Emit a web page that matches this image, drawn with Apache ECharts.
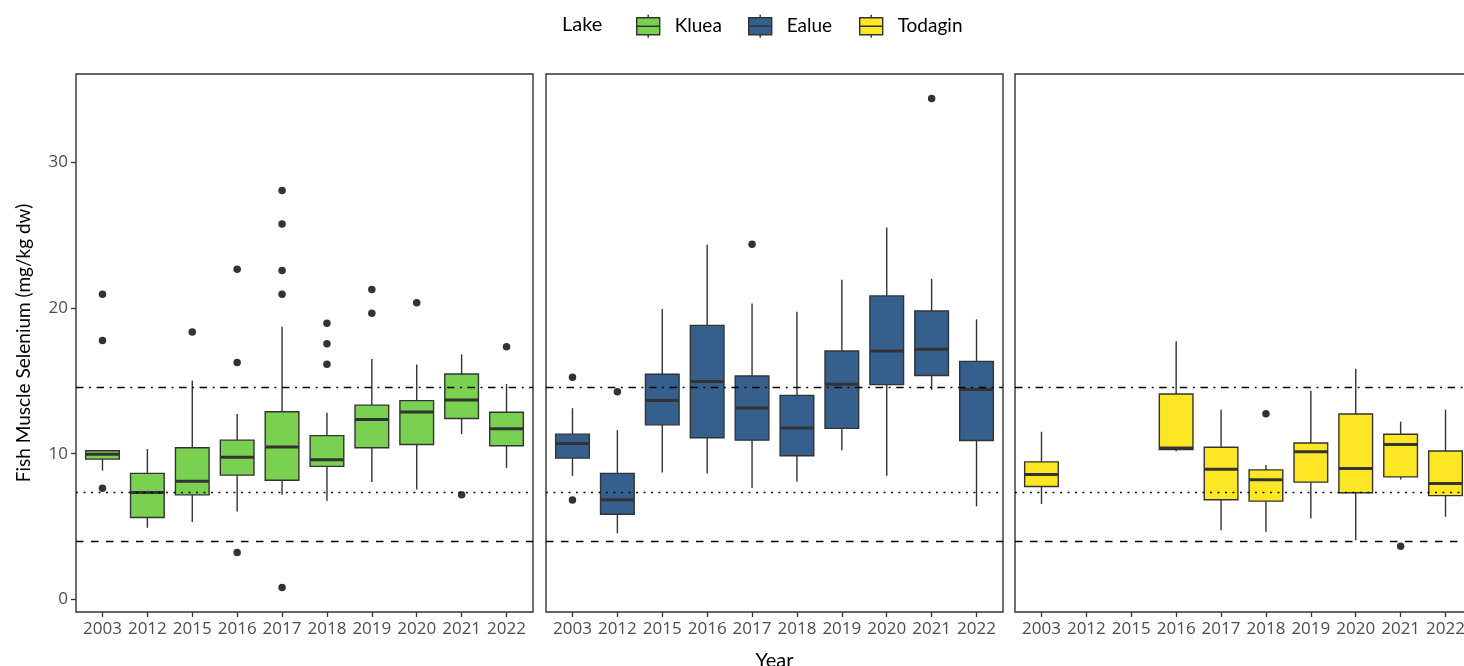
<!DOCTYPE html>
<html><head><meta charset="utf-8">
<script src="https://cdn.jsdelivr.net/npm/echarts@6/dist/echarts.min.js"></script>
<style>html,body{margin:0;padding:0;background:#fff}#c{width:1464px;height:666px}</style>
</head><body><div id="c"></div><script>
// ---------- data ----------
const years = ['2003','2012','2015','2016','2017','2018','2019','2020','2021','2022'];
const lakes = ['Kluea','Ealue','Todagin'];
// rows: [lower whisker, Q1, median, Q3, upper whisker]; null = no sample
const klueaBox = [
  [8.84, 9.63, 9.96, 10.20, 10.20],
  [4.92, 5.63, 7.34, 8.65, 10.32],
  [5.32, 7.18, 8.11, 10.41, 15.02],
  [6.04, 8.53, 9.75, 10.93, 12.72],
  [7.18, 8.18, 10.46, 12.88, 18.71],
  [6.77, 9.13, 9.58, 11.24, 12.81],
  [8.06, 10.41, 12.34, 13.33, 16.50],
  [7.54, 10.63, 12.86, 13.64, 16.12],
  [11.34, 12.41, 13.69, 15.47, 16.81],
  [9.03, 10.55, 11.72, 12.84, 14.78]
];
const ealueBox = [
  [8.49, 9.70, 10.70, 11.34, 13.12],
  [4.54, 5.85, 6.85, 8.65, 11.62],
  [8.72, 11.98, 13.64, 15.45, 19.92],
  [8.65, 11.10, 14.95, 18.80, 24.32],
  [7.65, 10.93, 13.14, 15.33, 20.30],
  [8.08, 9.86, 11.77, 14.00, 19.73],
  [10.24, 11.74, 14.76, 17.04, 21.92],
  [8.49, 14.74, 17.04, 20.82, 25.51],
  [14.38, 15.36, 17.16, 19.78, 21.99],
  [6.39, 10.91, 14.40, 16.33, 19.21]
];
const todaginBox = [
  [6.56, 7.75, 8.57, 9.44, 11.51],
  null,
  null,
  [10.17, 10.28, 10.40, 14.09, 17.71],
  [4.76, 6.84, 8.93, 10.44, 13.02],
  [4.65, 6.75, 8.21, 8.89, 9.23],
  [5.56, 8.05, 10.14, 10.74, 14.32],
  [4.06, 7.32, 8.98, 12.72, 15.82],
  [8.23, 8.41, 10.64, 11.33, 12.20],
  [5.68, 7.13, 7.96, 10.19, 13.02]
];
// outliers: [year, value]
const klueaOut = [
  ['2003',20.94],['2003',17.76],['2003',7.63],
  ['2015',18.35],
  ['2016',22.65],['2016',16.26],['2016',3.23],
  ['2017',28.05],['2017',25.74],['2017',22.56],['2017',20.94],['2017',0.83],
  ['2018',18.94],['2018',17.54],['2018',16.14],
  ['2019',21.25],['2019',19.63],
  ['2020',20.35],
  ['2021',7.18],
  ['2022',17.33]
];
const ealueOut = [
  ['2003',15.24],['2003',6.82],
  ['2012',14.24],
  ['2017',24.36],
  ['2021',34.35]
];
const todaginOut = [
  ['2018',12.74],
  ['2021',3.65]
];
const refLines = [4.0, 7.34, 14.55];
const yTicks = [0, 10, 20, 30];
const yRange = [-0.85, 36.03];

// ---------- chart ----------
const boxSets = [klueaBox, ealueBox, todaginBox];
const outSets = [klueaOut, ealueOut, todaginOut];
const fills = ['#7AD151', '#35608D', '#FDE725'];
const panelLeft = [76, 546, 1015];
const panelW = 457, panelTop = 74, panelH = 538;
const pad = panelW * 0.6 / 10.2 - panelW / 20; // ggplot discrete expansion vs echarts band
const dark = '#333333';
const tickFont = 'Open Sans';
const titleFont = 'Lato';

function renderBox(params, api) {
  const x = api.value(0);
  const lo = api.coord([x, api.value(1)]);
  const q1 = api.coord([x, api.value(2)]);
  const md = api.coord([x, api.value(3)]);
  const q3 = api.coord([x, api.value(4)]);
  const hi = api.coord([x, api.value(5)]);
  const bw = api.size([1, 0])[0] * 0.75;
  const cx = md[0];
  const fill = api.visual('color');
  return {
    type: 'group',
    children: [
      { type: 'line', shape: { x1: cx, y1: hi[1], x2: cx, y2: q3[1] }, style: { stroke: dark, lineWidth: 1.4 } },
      { type: 'line', shape: { x1: cx, y1: q1[1], x2: cx, y2: lo[1] }, style: { stroke: dark, lineWidth: 1.4 } },
      { type: 'rect', shape: { x: cx - bw / 2, y: q3[1], width: bw, height: q1[1] - q3[1] }, style: { fill: fill, stroke: dark, lineWidth: 1.4 } },
      { type: 'line', shape: { x1: cx - bw / 2, y1: md[1], x2: cx + bw / 2, y2: md[1] }, style: { stroke: dark, lineWidth: 3 } }
    ]
  };
}

const grid = [], xAxis = [], yAxis = [], series = [];
for (let p = 0; p < 3; p++) {
  grid.push({ left: panelLeft[p], top: panelTop, width: panelW, height: panelH, show: true,
    borderColor: dark, borderWidth: 1.4, backgroundColor: 'transparent',
    containLabel: false, outerBoundsMode: 'none' });
  grid.push({ left: panelLeft[p] + pad, top: panelTop, width: panelW - 2 * pad, height: panelH, show: false,
    containLabel: false, outerBoundsMode: 'none' });
  xAxis.push({ type: 'value', gridIndex: 2 * p, min: 0, max: 1, show: false });
  xAxis.push({ type: 'category', gridIndex: 2 * p + 1, data: years, position: 'bottom',
    axisLine: { show: false, onZero: false },
    axisTick: { show: true, alignWithLabel: true, length: 5, lineStyle: { color: dark, width: 1.3 } },
    axisLabel: { color: '#4D4D4D', fontFamily: tickFont, fontSize: 17, margin: 9, interval: 0 },
    splitLine: { show: false },
    name: p === 1 ? 'Year' : '', nameLocation: 'middle', nameGap: 39,
    nameTextStyle: { fontFamily: titleFont, fontSize: 20, color: '#000' } });
  yAxis.push({ type: 'value', gridIndex: 2 * p, min: yRange[0], max: yRange[1],
    axisLine: { show: false, onZero: false }, splitLine: { show: false },
    axisTick: { show: p === 0, length: 5, customValues: yTicks, lineStyle: { color: dark, width: 1.3 } },
    axisLabel: { show: p === 0, customValues: yTicks, color: '#4D4D4D', fontFamily: tickFont, fontSize: 17, margin: 8 },
    name: p === 0 ? 'Fish Muscle Selenium (mg/kg dw)' : '', nameLocation: 'middle', nameGap: 43,
    nameTextStyle: { fontFamily: titleFont, fontSize: 19, color: '#000' } });
  yAxis.push({ type: 'value', gridIndex: 2 * p + 1, min: yRange[0], max: yRange[1], show: false });

  const boxData = [];
  boxSets[p].forEach((row, i) => { if (row) boxData.push([i].concat(row)); });
  series.push({ type: 'custom', name: lakes[p], xAxisIndex: 2 * p + 1, yAxisIndex: 2 * p + 1,
    renderItem: renderBox, data: boxData, encode: { x: 0, y: [1, 2, 3, 4, 5] },
    itemStyle: { color: fills[p], borderColor: dark, borderWidth: 1.4 }, z: 2, silent: true });
  series.push({ type: 'scatter', name: 'out' + p, xAxisIndex: 2 * p + 1, yAxisIndex: 2 * p + 1,
    data: outSets[p].map(d => [years.indexOf(d[0]), d[1]]), symbol: 'circle', symbolSize: 7.5,
    itemStyle: { color: dark, opacity: 1 }, z: 3, silent: true });
  series.push({ type: 'line', name: 'ref' + p, xAxisIndex: 2 * p, yAxisIndex: 2 * p,
    data: [[0.5, 10]], symbol: 'none', lineStyle: { opacity: 0 }, z: 5, silent: true,
    markLine: { silent: true, symbol: ['none', 'none'], label: { show: false },
      lineStyle: { color: '#000', width: 1.3 },
      data: [
        { yAxis: refLines[0], lineStyle: { type: [7.5, 7.5], color: '#000', width: 1.3 } },
        { yAxis: refLines[1], lineStyle: { type: [1.9, 5.6], color: '#000', width: 1.3 } },
        { yAxis: refLines[2], lineStyle: { type: [7.5, 5.6, 1.9, 5.6], color: '#000', width: 1.3 } }
      ] } });
}

const iconPath = 'path://M0,3H23V20H0Z M0,11.5H23 M11.5,0V3 M11.5,20V23';
const legend = lakes.map((name, i) => ({
  data: [name], left: [636, 748, 859][i], top: 14, padding: 0, orient: 'horizontal',
  itemWidth: 23, itemHeight: 23, icon: iconPath, selectedMode: false,
  itemStyle: { borderColor: dark, borderWidth: 1.4 },
  textStyle: { fontFamily: titleFont, fontSize: 19, color: '#000', padding: [0, 0, 0, 10] }
}));

const chart = echarts.init(document.getElementById('c'), null, { renderer: 'canvas' });
chart.setOption({
  animation: false,
  backgroundColor: '#fff',
  title: { text: 'Lake', left: 562, top: 15, padding: 0,
    textStyle: { fontFamily: titleFont, fontSize: 20, fontWeight: 'normal', color: '#000' } },
  legend: legend,
  grid: grid, xAxis: xAxis, yAxis: yAxis, series: series
});
</script></body></html>
